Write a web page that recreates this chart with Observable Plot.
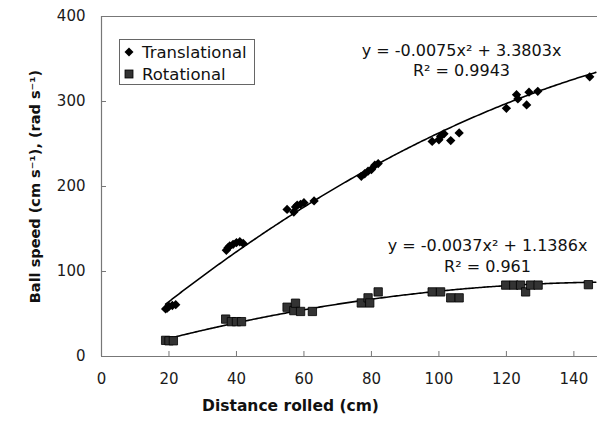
<!DOCTYPE html>
<html>
<head>
<meta charset="utf-8">
<script src="https://cdn.jsdelivr.net/npm/d3@7"></script>
<script src="https://cdn.jsdelivr.net/npm/@observablehq/plot@0.6"></script>
<style>
  body { margin: 0; background: #fff; }
  #wrap { position: relative; width: 599px; height: 421px; font-family: "DejaVu Sans", sans-serif; }
  #legend { position: absolute; left: 119px; top: 39px; width: 136px; height: 46px; box-sizing: border-box;
            border: 1.5px solid #666; background: #fff; padding-top: 1px; }
  #legend .row { display: flex; align-items: center; height: 22px; font-size: 16.5px; color: #111; }
  #legend svg { margin-left: 4px; margin-right: 8px; }
</style>
</head>
<body>
<div id="wrap"></div>
<script>
// ---- data ----
const transX = [19, 19.5, 20, 21, 22, 37, 37.5, 38, 39, 40, 41, 42, 55, 57, 57.5, 58, 59, 60, 63, 77, 78, 79, 80, 81, 82, 98, 100, 100.5, 101.5, 103.5, 106, 120, 123, 123.4, 126, 126.7, 129.3, 144.7];
const transY = [56, 57, 59, 60, 61, 125, 128, 130, 132, 134, 135, 133, 173, 170, 176, 178, 179, 181, 183, 212, 215, 218, 220, 225, 227, 253, 255, 259, 262, 254, 263, 292, 308, 303, 296, 311, 312, 329];
const rotX = [19, 20, 21.3, 36.8, 38.5, 40, 41.5, 55, 57, 57.5, 59, 62.5, 77, 79, 79.5, 82, 98, 100.5, 103.5, 106, 119.8, 122.2, 124.2, 125.7, 127.2, 129.4, 144.3];
const rotY = [19, 18.5, 18.5, 44, 41, 41, 41, 58, 54, 62.7, 53, 53, 63, 69, 63, 76, 76, 76, 69, 69, 84, 84, 84, 76, 84, 84, 84.5];
// trendline coefficients shown on the chart: y = a x^2 + b x
const transFit = [-0.0075, 3.3803];
const rotFit = [-0.0037, 1.1386];
const transEq = "y = -0.0075x\u00B2 + 3.3803x\nR\u00B2 = 0.9943";
const rotEq = "y = -0.0037x\u00B2 + 1.1386x\nR\u00B2 = 0.961";
const xTicks = [0, 20, 40, 60, 80, 100, 120, 140];
const yTicks = [0, 100, 200, 300, 400];
const seriesNames = ["Translational", "Rotational"];
const xTitle = "Distance rolled (cm)";
const yTitle = "Ball speed (cm s\u207B\u00B9), (rad s\u207B\u00B9)";

const trans = transX.map((x, i) => ({x, y: transY[i]}));
const rot = rotX.map((x, i) => ({x, y: rotY[i]}));
const curve = (c, x0, x1) => d3.range(x0, x1 + 0.001, 0.5).map(x => ({x, y: c[0] * x * x + c[1] * x}));
const transLine = curve(transFit, d3.min(transX), 146.5);
const rotLine = curve(rotFit, d3.min(rotX), 146.5);

const axisColor = "#777";
const plot = Plot.plot({
  width: 599, height: 421,
  marginLeft: 101, marginRight: 2, marginTop: 16, marginBottom: 65,
  style: {fontFamily: "DejaVu Sans, sans-serif", fontSize: "15px", color: "#111", background: "#fff"},
  x: {domain: [0, 147]},
  y: {domain: [0, 400]},
  marks: [
    Plot.ruleY([400], {stroke: axisColor, strokeWidth: 1.2}),
    Plot.axisX({ticks: xTicks, tickSize: -5, tickPadding: 22, stroke: axisColor, fill: "#1a1a1a", fontSize: 15, label: null}),
    Plot.axisY({ticks: yTicks, tickSize: -5, tickPadding: 21, stroke: axisColor, fill: "#1a1a1a", fontSize: 15, label: null}),
    Plot.ruleX([0], {stroke: axisColor, strokeWidth: 1.2}),
    Plot.ruleY([0], {stroke: axisColor, strokeWidth: 1.2}),
    Plot.line(transLine, {x: "x", y: "y", stroke: "#000", strokeWidth: 1.6}),
    Plot.line(rotLine, {x: "x", y: "y", stroke: "#000", strokeWidth: 1.6}),
    Plot.dot(trans, {x: "x", y: "y", symbol: "diamond2", r: 4.2, fill: "#000", stroke: "none"}),
    Plot.dot(rot, {x: "x", y: "y", symbol: "square", r: 4.7, fill: "#333", stroke: "#000", strokeWidth: 0.8}),
    Plot.text([transEq], {text: d => d, frameAnchor: "top-left", textAnchor: "middle", dx: 360, dy: 43, lineAnchor: "middle", lineHeight: 1.25, fontSize: 16, fill: "#111"}),
    Plot.text([rotEq], {text: d => d, frameAnchor: "top-left", textAnchor: "middle", dx: 386, dy: 238, lineAnchor: "middle", lineHeight: 1.35, fontSize: 16, fill: "#111"}),
    Plot.text([xTitle], {text: d => d, frameAnchor: "bottom", textAnchor: "middle", dx: -59, dy: 54, fontWeight: "bold", fontSize: 15.5, fill: "#111"}),
    Plot.text([yTitle], {text: d => d, frameAnchor: "left", textAnchor: "middle", dx: -66, rotate: -90, fontWeight: "bold", fontSize: 14.5, fill: "#111"})
  ]
});
const wrap = document.getElementById("wrap");
wrap.appendChild(plot);

// legend
const legend = document.createElement("div");
legend.id = "legend";
const markers = [
  '<svg width="10" height="10" viewBox="-5 -5 10 10"><path d="M0,-4.5L4.5,0L0,4.5L-4.5,0Z" fill="#000"/></svg>',
  '<svg width="10" height="10" viewBox="-5 -5 10 10"><rect x="-4" y="-4" width="8" height="8" fill="#333" stroke="#000" stroke-width="0.8"/></svg>'
];
seriesNames.forEach((name, i) => {
  const row = document.createElement("div");
  row.className = "row";
  row.innerHTML = markers[i] + "<span>" + name + "</span>";
  legend.appendChild(row);
});
wrap.appendChild(legend);
</script>
</body>
</html>
